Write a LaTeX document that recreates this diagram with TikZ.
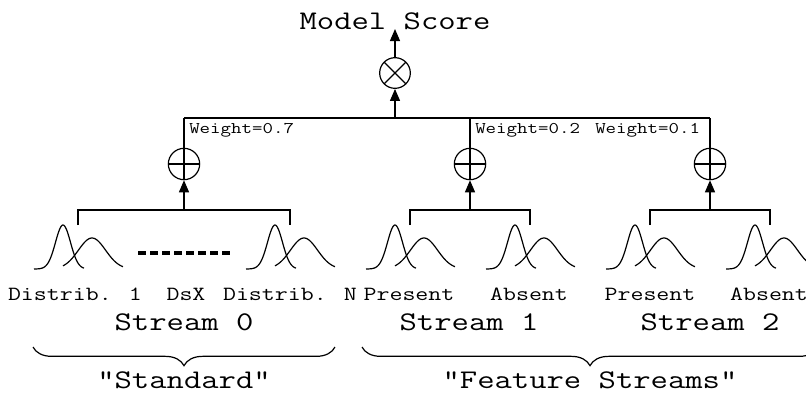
\documentclass[tikz,border=0pt]{standalone}
\usepackage{graphicx}
\usetikzlibrary{arrows.meta,decorations.pathreplacing}
\newcommand{\wider}[1]{\scalebox{1.25}[1]{#1}}
\newcommand{\gpair}[2]{%
  \pgfmathsetmacro{\na}{#1}\pgfmathsetmacro{\nb}{#1+50}\pgfmathsetmacro{\nc}{#1+29}%
  \pgfmathsetmacro{\wa}{#1+29}\pgfmathsetmacro{\wb}{#1+89}\pgfmathsetmacro{\wc}{#1+58}%
  \draw[thin line] plot[domain=\na:\nb, samples=60, smooth] (\x,{#2-44*exp(-((\x-\nc)*(\x-\nc))/112.5)});
  \draw[thin line] plot[domain=\wa:\wb, samples=60, smooth] (\x,{#2-31*exp(-((\x-\wc)*(\x-\wc))/370)});
}
\begin{document}
\begin{tikzpicture}[x=0.75pt,y=-0.75pt,
  thin line/.style={line width=0.9pt},
  conn/.style={line width=0.9pt},
  arr/.style={line width=0.9pt,-{Triangle[length=9pt,width=7.5pt]}},
  plusnode/.style={circle,draw,line width=0.9pt,minimum size=23.5pt,inner sep=0pt,
    path picture={\draw[line width=0.9pt] (path picture bounding box.north) -- (path picture bounding box.south)
      (path picture bounding box.west) -- (path picture bounding box.east);}},
  timesnode/.style={circle,draw,line width=0.9pt,minimum size=23pt,inner sep=0pt,
    path picture={\draw[line width=0.9pt] (path picture bounding box.north west) -- (path picture bounding box.south east)
      (path picture bounding box.south west) -- (path picture bounding box.north east);}},
  big/.style={font=\ttfamily\fontsize{20.2}{24}\selectfont,inner sep=0pt,anchor=base},
  mid/.style={font=\ttfamily\fontsize{15.1}{18}\selectfont,inner sep=0pt,anchor=base},
  small/.style={font=\ttfamily\fontsize{12.2}{14}\selectfont,inner sep=0pt,anchor=base west},
  brc/.style={line width=0.9pt,decorate,decoration={brace,mirror,amplitude=14pt}}
]
\useasboundingbox (0,0) rectangle (806,394);

% title and product
\node[big] (title) at (395,29) {\wider{Model Score}};
\coordinate (top) at (395,29);
\node[timesnode] (prod) at (395,73) {};

% junction line
\coordinate (j0) at (184,118);
\coordinate (jc) at (395,118);
\coordinate (j1) at (470,118);
\coordinate (j2) at (710,118);
\draw[conn] (j0) -- (j2);
\draw[arr] (jc) -- (prod);
\draw[arr] (prod) -- (top);

% weights
\node[small] (w0) at (189,133) {\wider{Weight=0.7}};
\node[small] (w1) at (475,133) {\wider{Weight=0.2}};
\node[small] (w2) at (595,133) {\wider{Weight=0.1}};

% sum nodes
\node[plusnode] (s0) at (184,164) {};
\node[plusnode] (s1) at (470,164) {};
\node[plusnode] (s2) at (710,164) {};
\draw[conn] (j0) -- (s0);
\draw[conn] (j1) -- (s1);
\draw[conn] (j2) -- (s2);

% brackets
\coordinate (bc0) at (184,210);
\coordinate (bc1) at (470,210);
\coordinate (bc2) at (710,210);
\coordinate (l0a) at (78,225);  \coordinate (l0b) at (290,225);
\coordinate (l1a) at (410,225); \coordinate (l1b) at (530,225);
\coordinate (l2a) at (650,225); \coordinate (l2b) at (770,225);
\draw[conn] (l0a) |- (bc0) -| (l0b);
\draw[conn] (l1a) |- (bc1) -| (l1b);
\draw[conn] (l2a) |- (bc2) -| (l2b);
\draw[arr] (bc0) -- (s0);
\draw[arr] (bc1) -- (s1);
\draw[arr] (bc2) -- (s2);

% distributions
\gpair{34}{269}
\gpair{246}{269}
\gpair{366}{269}
\gpair{486}{269}
\gpair{606}{269}
\gpair{726}{269}

% dashes
\coordinate (da) at (138,253);
\coordinate (db) at (230,253);
\draw[line width=3.6pt,dash pattern=on 6pt off 3pt] (da) -- (db);

% labels
\node[mid] (d1) at (75,300) {\wider{Distrib. 1}};
\node[mid] (dsx) at (186,300) {\wider{DsX}};
\node[mid] (dn) at (290,300) {\wider{Distrib. N}};
\node[mid] (p1) at (409,300) {\wider{Present}};
\node[mid] (a1) at (529,300) {\wider{Absent}};
\node[mid] (p2) at (650,300) {\wider{Present}};
\node[mid] (a2) at (769,300) {\wider{Absent}};

\node[big] (st0) at (184,330) {\wider{Stream 0}};
\node[big] (st1) at (469,330) {\wider{Stream 1}};
\node[big] (st2) at (710,330) {\wider{Stream 2}};

% braces
\coordinate (br0l) at (33,347);
\coordinate (br0r) at (335,347);
\coordinate (br1l) at (362,347);
\coordinate (br1r) at (818,347);
\draw[brc] (br0l) -- (br0r);
\draw[brc] (br1l) -- (br1r);

\node[big] (std) at (184,388) {\wider{"Standard"}};
\node[big] (feat) at (590,388) {\wider{"Feature Streams"}};
\end{tikzpicture}
\end{document}
